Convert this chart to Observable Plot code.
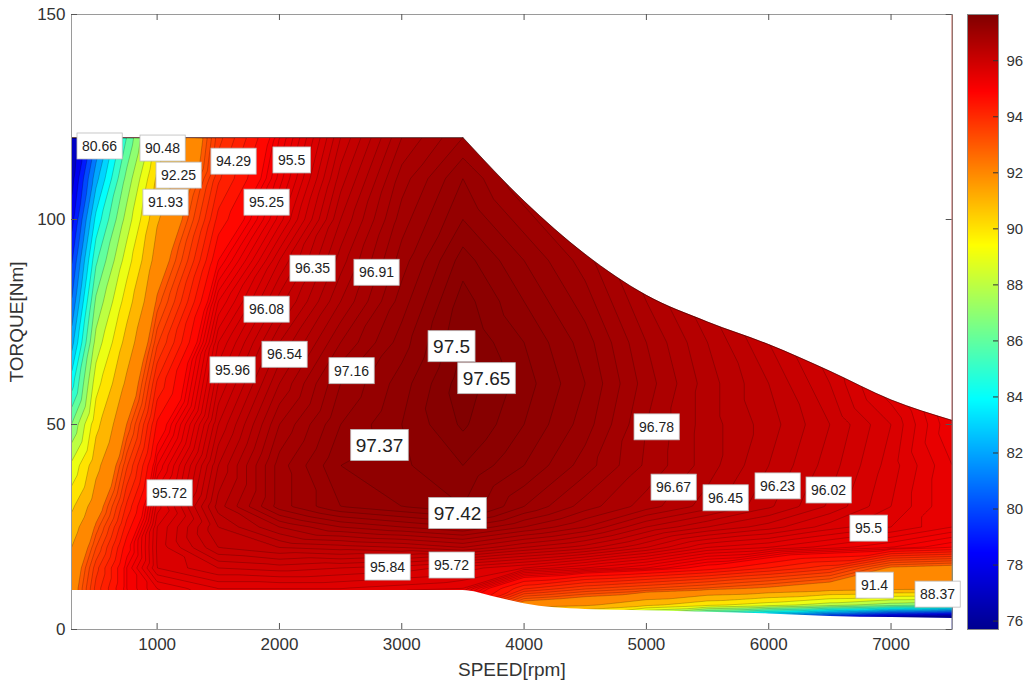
<!DOCTYPE html>
<html><head><meta charset="utf-8">
<script src="https://cdn.jsdelivr.net/npm/d3@7"></script>
<script src="https://cdn.jsdelivr.net/npm/@observablehq/plot@0.6"></script>
<style>
body{margin:0;background:#fff;}
#wrap{position:relative;width:1027px;height:681px;overflow:hidden;font-family:"Liberation Sans",Arial,sans-serif;}
#wrap svg{position:absolute;top:0;}
g[aria-label="x-axis label"] text, g[aria-label="y-axis label"] text{font-size:19px;}
</style></head><body><div id="wrap"></div>
<script>
// ---- data ----
const speeds  = [300, 500, 750, 1000, 1500, 2000, 2500, 3000, 3500, 4000, 4500, 5000, 5500, 6000, 6500, 7000, 7500];
const torques = [3, 6, 10, 15, 20, 25, 30, 40, 50, 60, 70, 80, 90, 100, 110, 120];
// efficiency [%], one row per torque, one column per speed
const efficiency = [
  [92.5, 93.9, 94.9, 95.2, 95.4, 95.4, 95.4, 95.3, 94.0, 90.0, 89.0, 86.0, 83.0, 81.0, 79.0, 77.0, 76.0],
  [92.6, 94.0, 95.0, 95.3, 95.5, 95.5, 95.5, 95.4, 95.0, 92.6, 92.2, 91.3, 90.3, 89.5, 88.5, 87.5, 87.0],
  [92.6, 94.1, 95.1, 95.4, 95.6, 95.6, 95.6, 95.55, 95.5, 94.3, 93.8, 93.5, 93.2, 92.9, 92.5, 92.3, 92.2],
  [92.4, 93.9, 95.1, 95.7, 95.9, 95.95, 95.9, 95.85, 95.75, 95.6, 95.4, 95.2, 94.9, 94.5, 94.1, 92.9, 92.7],
  [92.0, 93.5, 94.9, 95.72, 96.2, 96.3, 96.35, 96.4, 96.5, 96.3, 96.15, 95.9, 95.6, 95.5, 95.35, 95.2, 95.0],
  [91.5, 93.1, 94.6, 95.7, 96.3, 96.6, 96.8, 96.9, 97.0, 96.8, 96.6, 96.3, 96.1, 95.95, 95.75, 95.6, 95.4],
  [90.8, 92.6, 94.3, 95.55, 96.45, 96.95, 97.2, 97.3, 97.4, 97.1, 96.85, 96.65, 96.45, 96.22, 95.98, 95.7, 95.4],
  [89.2, 91.7, 93.7, 95.2, 96.3, 96.95, 97.3, 97.38, 97.5, 97.3, 97.05, 96.78, 96.55, 96.3, 96.05, 95.75, 95.4],
  [87.0, 90.7, 93.0, 94.8, 96.1, 96.8, 97.2, 97.4, 97.62, 97.4, 97.15, 96.8, 96.55, 96.35, 96.1, 95.8, 95.3],
  [84.5, 89.6, 92.2, 94.3, 95.9, 96.6, 97.1, 97.35, 97.66, 97.45, 97.2, 96.85, 96.55, 96.3, 96.0, 95.6, 95.2],
  [82.5, 88.4, 91.4, 93.7, 95.7, 96.4, 96.9, 97.25, 97.6, 97.4, 97.15, 96.8, 96.5, 96.2, 95.9, 95.55, 95.2],
  [81.0, 87.2, 90.5, 93.1, 95.4, 96.15, 96.7, 97.15, 97.55, 97.3, 97.05, 96.7, 96.4, 96.1, 95.8, 95.5, 95.15],
  [79.8, 85.8, 89.5, 92.5, 95.0, 95.9, 96.55, 97.05, 97.45, 97.2, 96.95, 96.6, 96.3, 96.0, 95.7, 95.4, 95.1],
  [78.5, 84.3, 88.4, 91.9, 94.6, 95.55, 96.4, 96.95, 97.3, 97.05, 96.8, 96.5, 96.2, 95.9, 95.6, 95.3, 95.0],
  [77.5, 82.6, 87.3, 91.2, 94.2, 95.35, 96.25, 96.85, 97.2, 96.9, 96.65, 96.35, 96.05, 95.75, 95.45, 95.15, 94.85],
  [77.0, 81.0, 86.0, 90.3, 93.9, 95.2, 96.1, 96.7, 97.0, 96.75, 96.5, 96.2, 95.9, 95.6, 95.3, 95.0, 94.7]
];
// operating envelope
const maxTorqueSpeed = [300, 3500, 4000, 4500, 5000, 5500, 6000, 6500, 7000, 7500];
const maxTorque      = [120, 120, 104.5, 91.5, 81.5, 75, 69.5, 63, 56, 51];
const minTorqueSpeed = [300, 3500, 3750, 4000, 4250, 4500, 5000, 5500, 6000, 6500, 7000, 7500];
const minTorque      = [9.5, 9.5, 8, 6.3, 5.3, 4.9, 4.6, 4.2, 3.8, 3.2, 2.9, 2.7];
// contour labels
const labelText  = ["80.66","90.48","92.25","91.93","94.29","95.5","95.25","96.35","96.91","96.08","96.54","95.96","97.16","97.5","97.65","97.37","97.42","95.72","95.84","95.72","96.78","96.67","96.45","96.23","96.02","95.5","91.4","88.37"];
const labelSpeed = [529, 1044, 1175, 1068, 1624, 2099, 1894, 2270, 2793, 1894, 2041, 1616, 2589, 3407, 3693, 2818, 3456, 1101, 2883, 3407, 5083, 5222, 5647, 6072, 6489, 6816, 6865, 7380];
const labelTorque= [117.8, 117.3, 110.7, 104.1, 114.1, 114.4, 104.1, 88, 87, 78, 67, 63.2, 63, 69, 61.2, 44.9, 28.3, 33.2, 15.1, 15.6, 49.3, 34.6, 32, 34.9, 33.9, 24.6, 10.7, 8.5];
const bigLabels  = ["97.5","97.65","97.37","97.42"];
const xTicks  = [1000, 2000, 3000, 4000, 5000, 6000, 7000];
const yTicks  = [0, 50, 100, 150];
const cbTicks = [76, 78, 80, 82, 84, 86, 88, 90, 92, 94, 96];
const colorDomain = [75.7, 97.65];
const jet = ["#00008F","#0000FF","#0080FF","#00FFFF","#80FF80","#FFFF00","#FF8000","#FF0000","#800000"];

// ---- build ----
const points = [];
torques.forEach((t, i) => speeds.forEach((s, j) => points.push({s, t, e: efficiency[i][j]})));
const upper = maxTorqueSpeed.map((s, i) => ({s, t: maxTorque[i]}));
const upperFlat = upper.filter(d => d.s <= 3500);
const upperCurve = upper.filter(d => d.s >= 3500);
const lower = minTorqueSpeed.map((s, i) => ({s, t: minTorque[i]}));
const labels = labelText.map((txt, i) => ({txt, s: labelSpeed[i], t: labelTorque[i]}));
const stops = jet.map((_, i) => colorDomain[0] + i * (colorDomain[1] - colorDomain[0]) / (jet.length - 1));
const colorOpts = {type: "linear", domain: stops, range: jet, interpolate: "rgb"};
const levels = [colorDomain[0], ...d3.range(76, 93, 1), ...d3.range(93, 95, 0.25), ...d3.range(95, 97.7, 0.1)];

const W = 960, H = 681, mL = 71, mR = 8.3, mT = 14, mB = 52;
const fw = W - mL - mR, fh = H - mT - mB;
const font = '"Liberation Sans", Arial, sans-serif';

const main = Plot.plot({
  width: W, height: H, marginLeft: mL, marginRight: mR, marginTop: mT, marginBottom: mB,
  style: {fontFamily: font, fontSize: "17px", color: "#333", background: "transparent", overflow: "visible"},
  x: {domain: [300, 7500]},
  y: {domain: [0, 150]},
  color: colorOpts,
  marks: [
    Plot.contour(points, {x: "s", y: "t", fill: "e", interpolate: "barycentric", thresholds: levels,
      stroke: "#000", strokeWidth: 0.55, strokeOpacity: 0.38, pixelSize: 1}),
    Plot.areaY(upperFlat, {x: "s", y1: "t", y2: () => 150, fill: "white", stroke: "white", strokeWidth: 1.5}),
    Plot.areaY(upperCurve, {x: "s", y1: "t", y2: () => 150, fill: "white", curve: "monotone-x"}),
    Plot.areaY(lower, {x: "s", y1: () => 0, y2: "t", fill: "white", curve: "monotone-x"}),
    Plot.line(upperFlat, {x: "s", y: "t", stroke: "#300", strokeOpacity: 0.6, strokeWidth: 1}),
    Plot.line(upperCurve, {x: "s", y: "t", stroke: "#300", strokeOpacity: 0.6, strokeWidth: 1, curve: "monotone-x"}),
    Plot.frame({stroke: "#9a9a9a"}),
    Plot.tickX(xTicks, {x: d => d, insetTop: fh - 6, stroke: "#555"}),
    Plot.tickX(xTicks, {x: d => d, insetBottom: fh - 6, stroke: "#555"}),
    Plot.tickY(yTicks, {y: d => d, insetRight: fw - 6, stroke: "#555"}),
    Plot.tickY(yTicks, {y: d => d, insetLeft: fw - 6, stroke: "#555"}),
    Plot.axisX({ticks: xTicks, tickFormat: d => String(d), tickSize: 0, tickPadding: 8, label: "SPEED[rpm]", labelAnchor: "center", labelArrow: "none", labelOffset: 46}),
    Plot.axisY({ticks: yTicks, tickFormat: d => String(d), tickSize: 0, tickPadding: 6, label: "TORQUE[Nm]", labelAnchor: "center", labelArrow: "none", labelOffset: 62}),
    Plot.text(labels, {x: "s", y: "t", text: "txt", fill: "#222",
      fontSize: d => bigLabels.includes(d.txt) ? 19 : 14})
  ]
});

const cbW = 67, cbL = 7, cbBar = 31;
const cb = Plot.plot({
  width: cbW, height: H, marginLeft: cbL, marginRight: cbW - cbL - cbBar, marginTop: mT, marginBottom: mB,
  style: {fontFamily: font, fontSize: "15px", color: "#333", background: "transparent"},
  x: {domain: [0, 1], axis: null},
  y: {domain: colorDomain, axis: null},
  color: colorOpts,
  marks: [
    Plot.raster({x1: 0, x2: 1, y1: colorDomain[0], y2: colorDomain[1], fill: (x, y) => y, pixelSize: 1}),
    Plot.frame({stroke: "#888"}),
    Plot.tickY(cbTicks, {y: d => d, insetLeft: cbBar - 5, stroke: "#333"}),
    Plot.axisY({anchor: "right", ticks: cbTicks, tickSize: 0, tickPadding: 8, label: null})
  ]
});

const wrap = document.getElementById("wrap");
wrap.append(main, cb);
main.style.left = "0px";
cb.style.left = W + "px";

// white boxes behind contour labels
main.querySelectorAll('g[aria-label="text"] text').forEach(t => {
  const b = t.getBBox();
  const px = 5, py = 5;
  const r = document.createElementNS("http://www.w3.org/2000/svg", "rect");
  r.setAttribute("x", b.x - px);
  r.setAttribute("y", b.y - py);
  r.setAttribute("width", b.width + 2 * px);
  r.setAttribute("height", b.height + 2 * py);
  r.setAttribute("fill", "white");
  r.setAttribute("stroke", "#bbb");
  r.setAttribute("stroke-width", "0.8");
  const tr = t.getAttribute("transform");
  if (tr) r.setAttribute("transform", tr);
  t.parentNode.insertBefore(r, t);
});
</script></body></html>
